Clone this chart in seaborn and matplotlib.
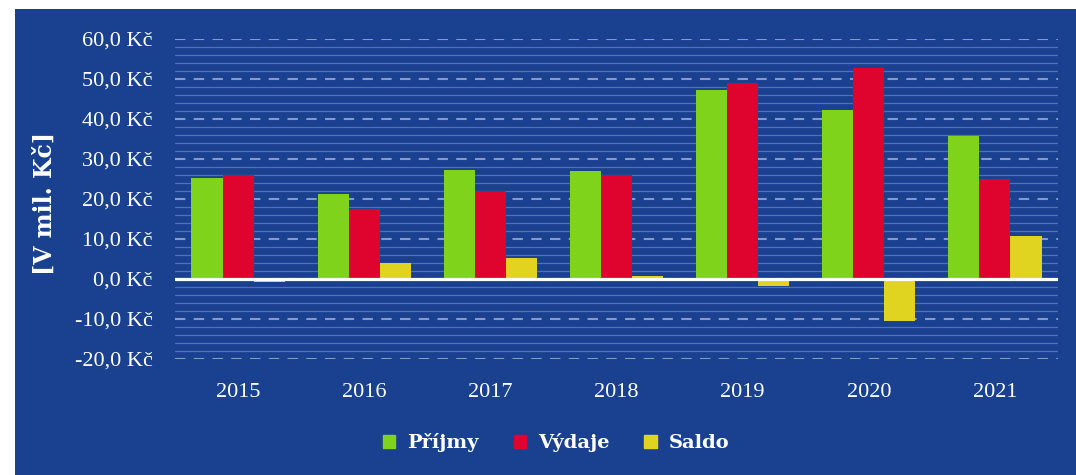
import pandas as pd
import matplotlib
matplotlib.use("Agg")
import matplotlib.pyplot as plt
import matplotlib.patches as mpatches
from matplotlib.ticker import MultipleLocator, FuncFormatter
import seaborn as sns

# --- data (mil. Kč) ---
years = ["2015", "2016", "2017", "2018", "2019", "2020", "2021"]
prijmy = [25.3, 21.3, 27.3, 26.9, 47.3, 42.3, 35.8]
vydaje = [26.0, 17.4, 22.0, 26.0, 49.0, 52.7, 25.1]
saldo = [-0.7, 3.9, 5.2, 0.8, -1.7, -10.4, 10.7]
series_names = ["Příjmy", "Výdaje", "Saldo"]

BLUE = "#1a4190"
palette = {"Příjmy": "#7fd31a", "Výdaje": "#df042e", "Saldo": "#e0d420"}

df = pd.DataFrame({"rok": years, "Příjmy": prijmy, "Výdaje": vydaje, "Saldo": saldo})
long_df = df.melt(id_vars="rok", var_name="typ", value_name="hodnota")

sns.set_theme(style="white")
plt.rcParams["font.family"] = ["Liberation Serif", "DejaVu Serif"]

W, H = 1076, 475
fig = plt.figure(figsize=(W / 100, H / 100), dpi=100, facecolor="white")

# blue panel behind everything, leaving the white strips at left and top
fig.patches.append(mpatches.Rectangle((15 / W, 0), 1 - 15 / W, 1 - 9 / H,
                                      transform=fig.transFigure, facecolor=BLUE,
                                      edgecolor="none", zorder=-5))

ax = fig.add_axes([175 / W, 1 - 359 / H, (1058 - 175) / W, (359 - 39) / H])
ax.set_facecolor(BLUE)

sns.barplot(data=long_df, x="rok", y="hodnota", hue="typ", hue_order=series_names,
            palette=palette, width=0.74, linewidth=0, saturation=1, ax=ax, zorder=3)

ax.set_ylim(-20, 60)
ax.yaxis.set_major_locator(MultipleLocator(10))
ax.yaxis.set_minor_locator(MultipleLocator(2))
ax.yaxis.set_major_formatter(FuncFormatter(lambda v, p: f"{v:.1f}".replace(".", ",") + " Kč"))

ax.grid(axis="y", which="minor", color="#5371b0", linewidth=0.9, linestyle="-", zorder=1)
ax.grid(axis="y", which="major", color="#8799c5", linewidth=1.5, linestyle=(0, (5, 4)), zorder=2)
ax.axhline(0, color="white", linewidth=2.3, zorder=4)

for s in ax.spines.values():
    s.set_visible(False)
ax.tick_params(axis="both", which="both", length=0, colors="white", labelsize=16)
ax.tick_params(axis="y", pad=16)
ax.tick_params(axis="x", pad=17)
ax.set_xlabel("")
ax.set_ylabel("")

fig.text(45 / W, 1 - 203 / H, "[V mil. Kč]", rotation=90, ha="center", va="center",
         color="white", fontsize=17, fontweight="bold", family="DejaVu Serif")

# legend below the plot
ax.get_legend().remove()
handles = [mpatches.Patch(color=palette[n]) for n in series_names]
leg = fig.legend(handles, series_names, loc="center", bbox_to_anchor=(556 / W, 1 - 443 / H),
                 ncol=3, frameon=False, handlelength=0.65, handleheight=0.65,
                 handletextpad=0.6, columnspacing=1.8,
                 prop={"family": "DejaVu Serif", "weight": "bold", "size": 14})
for t in leg.get_texts():
    t.set_color("white")

fig.savefig("out.png", dpi=100, facecolor="white")
